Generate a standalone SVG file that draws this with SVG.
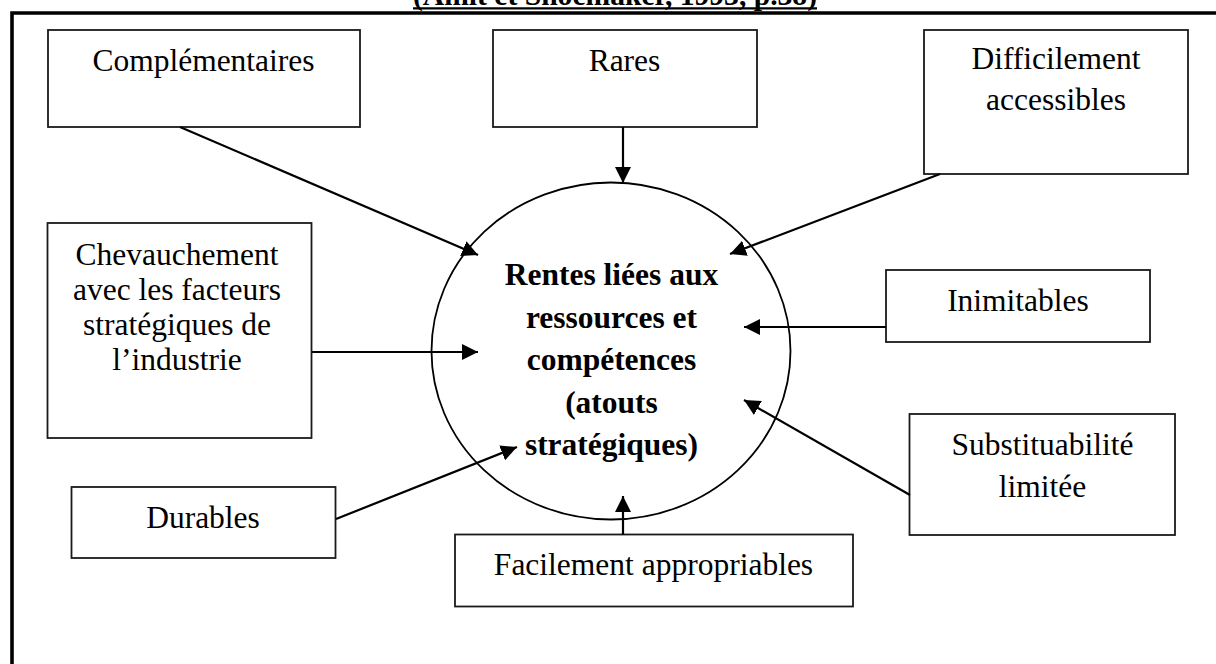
<svg xmlns="http://www.w3.org/2000/svg" width="1216" height="664" viewBox="0 0 1216 664">
  <style>
    .box { fill: #ffffff; stroke: #1a1a1a; stroke-width: 1.8; }
    .lbl { font-family: "Liberation Serif", "Times New Roman", serif; font-size: 31.5px; fill: #000000; text-anchor: middle; }
    .core { font-family: "Liberation Serif", "Times New Roman", serif; font-size: 31.5px; font-weight: bold; fill: #000000; text-anchor: middle; }
    .edge { fill: none; stroke: #000000; stroke-width: 2.2; marker-end: url(#head); }
  </style>
  <defs>
    <marker id="head" markerUnits="userSpaceOnUse" markerWidth="16" markerHeight="16" refX="16" refY="8" orient="auto">
      <path d="M0,0 L16,8 L0,16 Z" fill="#000000"/>
    </marker>
  </defs>

  <rect x="0" y="0" width="1216" height="664" fill="#ffffff"/>

  <!-- source caption, clipped at the top edge -->
  <g id="caption">
    <text x="615" y="5" font-family="Liberation Serif, Times New Roman, serif" font-size="29.4" font-weight="bold" text-anchor="middle" textLength="404" lengthAdjust="spacingAndGlyphs">(Amit et Shoemaker, 1993, p.38)</text>
    <line x1="413" y1="8.4" x2="817" y2="8.4" stroke="#000000" stroke-width="2.2"/>
  </g>

  <!-- outer frame (top and left sides) -->
  <path id="frame" d="M12,664 V13 H1216" fill="none" stroke="#000000" stroke-width="3.6"/>

  <!-- central ellipse -->
  <g id="rentes">
    <ellipse cx="611" cy="351" rx="179.5" ry="168.5" fill="#ffffff" stroke="#000000" stroke-width="1.8"/>
    <text class="core" x="611.5" y="285">Rentes liées aux</text>
    <text class="core" x="611.5" y="327.5">ressources et</text>
    <text class="core" x="611.5" y="370">compétences</text>
    <text class="core" x="611.5" y="412.5">(atouts</text>
    <text class="core" x="611.5" y="455">stratégiques)</text>
  </g>

  <g id="complementaires">
    <rect class="box" x="48" y="30" width="312" height="97"/>
    <text class="lbl" x="203.5" y="71">Complémentaires</text>
  </g>

  <g id="rares">
    <rect class="box" x="493" y="30" width="264" height="97"/>
    <text class="lbl" x="624.5" y="71">Rares</text>
  </g>

  <g id="difficilement">
    <rect class="box" x="924" y="30" width="264" height="144"/>
    <text class="lbl" x="1056" y="69">Difficilement</text>
    <text class="lbl" x="1056" y="110">accessibles</text>
  </g>

  <g id="chevauchement">
    <rect class="box" x="47.5" y="223" width="264" height="215"/>
    <text class="lbl" x="177" y="265">Chevauchement</text>
    <text class="lbl" x="177" y="300">avec les facteurs</text>
    <text class="lbl" x="177" y="335">stratégiques de</text>
    <text class="lbl" x="177" y="370">l’industrie</text>
  </g>

  <g id="inimitables">
    <rect class="box" x="886" y="270" width="264" height="72"/>
    <text class="lbl" x="1018" y="311">Inimitables</text>
  </g>

  <g id="substituabilite">
    <rect class="box" x="909.5" y="414" width="265.5" height="121"/>
    <text class="lbl" x="1042.5" y="454.5">Substituabilité</text>
    <text class="lbl" x="1042.5" y="497">limitée</text>
  </g>

  <g id="durables">
    <rect class="box" x="71.5" y="487" width="264" height="71"/>
    <text class="lbl" x="203" y="527.5">Durables</text>
  </g>

  <g id="facilement">
    <rect class="box" x="455" y="534.5" width="398" height="72"/>
    <text class="lbl" x="653.5" y="575">Facilement appropriables</text>
  </g>

  <!-- connectors: every factor points at the central ellipse -->
  <g id="connectors">
    <line class="edge" x1="180" y1="127" x2="478" y2="255"/>
    <line class="edge" x1="623" y1="127" x2="623" y2="183"/>
    <line class="edge" x1="940" y1="174" x2="730" y2="254"/>
    <line class="edge" x1="312" y1="352" x2="478" y2="352"/>
    <line class="edge" x1="886" y1="327" x2="744" y2="327"/>
    <line class="edge" x1="910" y1="495" x2="744" y2="400"/>
    <line class="edge" x1="336" y1="519" x2="517" y2="447"/>
    <line class="edge" x1="623" y1="534.5" x2="623" y2="496"/>
  </g>
</svg>
